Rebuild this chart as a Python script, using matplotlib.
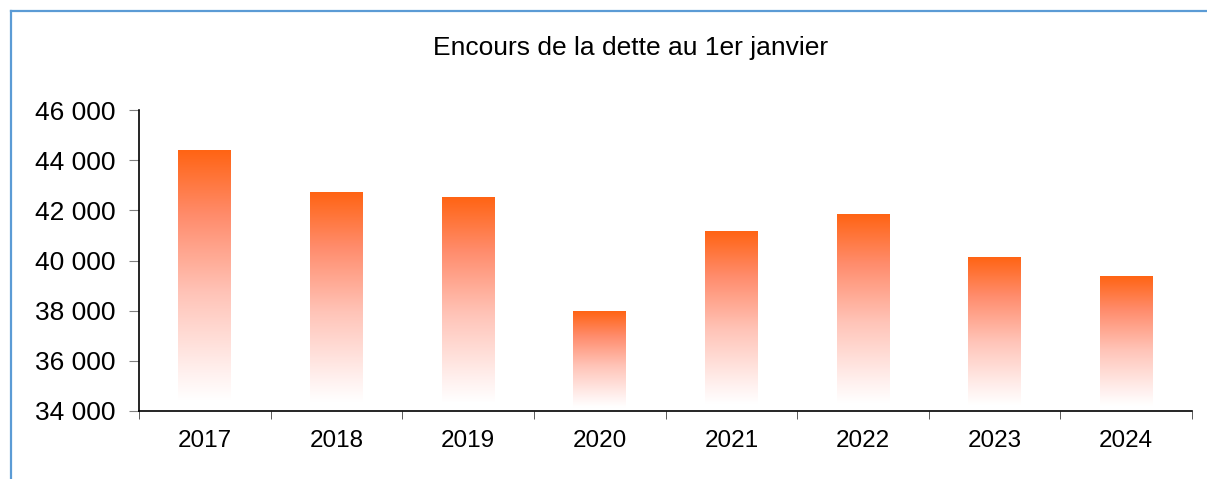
import numpy as np
import matplotlib
matplotlib.use("Agg")
import matplotlib.pyplot as plt
from matplotlib.colors import LinearSegmentedColormap
from matplotlib.lines import Line2D

plt.rcParams['font.family'] = ['Liberation Sans', 'DejaVu Sans']

years = ["2017", "2018", "2019", "2020", "2021", "2022", "2023", "2024"]
encours = [44400, 42720, 42520, 37960, 41160, 41840, 40120, 39360]
title = "Encours de la dette au 1er janvier"
y_ticks = [34000, 36000, 38000, 40000, 42000, 44000, 46000]

fig = plt.figure(figsize=(12.07, 4.79), dpi=100)
ax = fig.add_axes([139 / 1207, 1 - 411 / 479, (1192 - 139) / 1207, (411 - 110) / 479])

cmap = LinearSegmentedColormap.from_list(
    "fade",
    [(0.0, "#FF6414"), (0.25, "#FF8C6C"), (0.55, "#FFC4B8"),
     (0.85, "#FFF0EE"), (0.96, "#FFFFFF"), (1.0, "#FFFFFF")])

x = np.arange(len(years))
bars = ax.bar(x, np.array(encours) - 34000, bottom=34000, width=0.4,
              color="none", edgecolor="none")
grad = np.linspace(0, 1, 256).reshape(-1, 1)
for b in bars:
    x0, y0 = b.get_x(), b.get_y()
    ax.imshow(grad, cmap=cmap, aspect="auto", interpolation="bilinear",
              extent=[x0, x0 + b.get_width(), y0, y0 + b.get_height()],
              origin="upper", zorder=2)

ax.set_xlim(-0.5, len(years) - 0.5)
ax.set_ylim(34000, 46000)
ax.set_yticks(y_ticks)
ax.set_yticklabels([f"{v:,}".replace(",", " ") for v in y_ticks], fontsize=19)
ax.set_xticks(x)
ax.set_xticklabels(years, fontsize=17.5)
ax.set_xticks(np.arange(len(years) + 1) - 0.5, minor=True)
ax.tick_params(axis="x", which="major", length=0, pad=14)
ax.tick_params(axis="x", which="minor", length=6, direction="out", color="#404040")
ax.tick_params(axis="y", length=7, color="#808080", pad=10)

for s in ["top", "right"]:
    ax.spines[s].set_visible(False)
for s in ["left", "bottom"]:
    ax.spines[s].set_linewidth(1.2)
    ax.spines[s].set_color("black")

fig.text(631 / 1207, 1 - 48 / 479, title, ha="center", va="center", fontsize=19)

border = "#5B9BD5"
fig.add_artist(Line2D([10.5 / 1207, 1], [1 - 10.5 / 479] * 2, color=border, lw=1.6,
                      transform=fig.transFigure))
fig.add_artist(Line2D([10.5 / 1207] * 2, [0, 1 - 10.5 / 479], color=border, lw=1.6,
                      transform=fig.transFigure))

fig.savefig("out.png", dpi=100)
